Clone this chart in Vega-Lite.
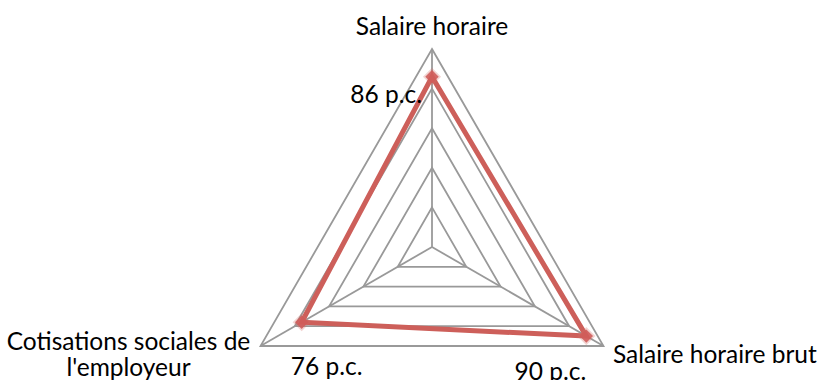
{
  "$schema": "https://vega.github.io/schema/vega-lite/v6.json",
  "width": 822,
  "height": 380,
  "padding": 0,
  "autosize": {"type": "none"},
  "background": "white",
  "config": {"view": {"stroke": null}, "text": {"font": "Lato", "fontSize": 24.5, "color": "#000000"}},
  "datasets": {
    "valeurs": [
      {"categorie": "Salaire horaire", "sommet": 0, "valeur": 86},
      {"categorie": "Salaire horaire brut", "sommet": 1, "valeur": 90},
      {"categorie": "Cotisations sociales de l'employeur", "sommet": 2, "valeur": 76}
    ],
    "grille": [
      {"niveau": 20, "sommet": 0}, {"niveau": 20, "sommet": 1}, {"niveau": 20, "sommet": 2},
      {"niveau": 40, "sommet": 0}, {"niveau": 40, "sommet": 1}, {"niveau": 40, "sommet": 2},
      {"niveau": 60, "sommet": 0}, {"niveau": 60, "sommet": 1}, {"niveau": 60, "sommet": 2},
      {"niveau": 80, "sommet": 0}, {"niveau": 80, "sommet": 1}, {"niveau": 80, "sommet": 2},
      {"niveau": 100, "sommet": 0}, {"niveau": 100, "sommet": 1}, {"niveau": 100, "sommet": 2}
    ]
  },
  "layer": [
    {
      "data": {"name": "grille"},
      "transform": [
        {"calculate": "datum.sommet * 2 * PI / 3", "as": "angle"},
        {"calculate": "datum.niveau * sin(datum.angle)", "as": "gx"},
        {"calculate": "datum.niveau * cos(datum.angle)", "as": "gy"}
      ],
      "mark": {"type": "line", "interpolate": "linear-closed", "color": "#999999", "strokeWidth": 1.8},
      "encoding": {
        "x": {"field": "gx", "type": "quantitative", "scale": {"domain": [-218.18, 196.97], "nice": false, "zero": false}, "axis": null},
        "y": {"field": "gy", "type": "quantitative", "scale": {"domain": [-67.17, 124.75], "nice": false, "zero": false}, "axis": null},
        "detail": {"field": "niveau"},
        "order": {"field": "sommet"}
      }
    },
    {
      "data": {"name": "valeurs"},
      "transform": [
        {"calculate": "datum.sommet * 2 * PI / 3", "as": "angle"},
        {"calculate": "100 * sin(datum.angle)", "as": "ax"},
        {"calculate": "100 * cos(datum.angle)", "as": "ay"}
      ],
      "mark": {"type": "rule", "color": "#999999", "strokeWidth": 1.8},
      "encoding": {
        "x": {"field": "ax", "type": "quantitative"},
        "y": {"field": "ay", "type": "quantitative"},
        "x2": {"datum": 0},
        "y2": {"datum": 0}
      }
    },
    {
      "data": {"name": "valeurs"},
      "transform": [
        {"calculate": "datum.sommet * 2 * PI / 3", "as": "angle"},
        {"calculate": "datum.valeur * sin(datum.angle)", "as": "vx"},
        {"calculate": "datum.valeur * cos(datum.angle)", "as": "vy"},
        {"calculate": "datum.valeur + ' p.c.'", "as": "etiquette"}
      ],
      "encoding": {
        "x": {"field": "vx", "type": "quantitative"},
        "y": {"field": "vy", "type": "quantitative"}
      },
      "layer": [
        {
          "mark": {"type": "line", "interpolate": "linear-closed", "color": "#cd5f5a", "strokeWidth": 5},
          "encoding": {"order": {"field": "sommet"}}
        },
        {
          "mark": {"type": "point", "shape": "diamond", "filled": true, "size": 330, "color": "#d4706b", "opacity": 0.3}
        },
        {
          "mark": {"type": "point", "shape": "diamond", "filled": true, "size": 180, "color": "#cf5c5a", "opacity": 0.9}
        },
        {
          "transform": [{"filter": "datum.sommet == 0"}],
          "mark": {"type": "text", "align": "right", "baseline": "alphabetic", "dx": -10, "dy": 26},
          "encoding": {"text": {"field": "etiquette"}}
        },
        {
          "transform": [{"filter": "datum.sommet == 1"}],
          "mark": {"type": "text", "align": "center", "baseline": "alphabetic", "dx": -36, "dy": 44},
          "encoding": {"text": {"field": "etiquette"}}
        },
        {
          "transform": [{"filter": "datum.sommet == 2"}],
          "mark": {"type": "text", "align": "center", "baseline": "alphabetic", "dx": 25, "dy": 53},
          "encoding": {"text": {"field": "etiquette"}}
        }
      ]
    },
    {
      "data": {"name": "valeurs"},
      "transform": [
        {"calculate": "datum.sommet * 2 * PI / 3", "as": "angle"},
        {"calculate": "100 * sin(datum.angle)", "as": "ax"},
        {"calculate": "100 * cos(datum.angle)", "as": "ay"},
        {"calculate": "replace(datum.categorie, 'de l', 'de\\nl')", "as": "nom"}
      ],
      "encoding": {
        "x": {"field": "ax", "type": "quantitative"},
        "y": {"field": "ay", "type": "quantitative"},
        "text": {"field": "nom"}
      },
      "layer": [
        {
          "transform": [{"filter": "datum.sommet == 0"}],
          "mark": {"type": "text", "align": "center", "baseline": "alphabetic", "dy": -14}
        },
        {
          "transform": [{"filter": "datum.sommet == 1"}],
          "mark": {"type": "text", "align": "left", "baseline": "alphabetic", "dx": 9.5, "dy": 17}
        },
        {
          "transform": [{"filter": "datum.sommet == 2"}],
          "mark": {"type": "text", "align": "center", "baseline": "alphabetic", "dx": -132, "dy": 4, "lineBreak": "\n", "lineHeight": 26}
        }
      ]
    }
  ]
}
